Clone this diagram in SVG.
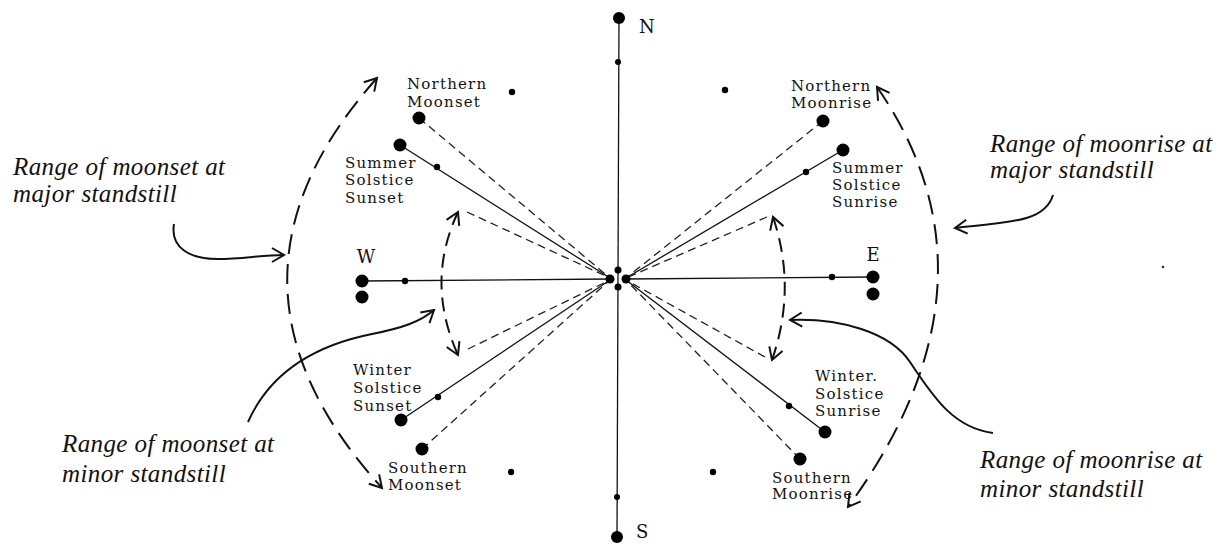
<svg xmlns="http://www.w3.org/2000/svg" width="1213" height="545" viewBox="0 0 1213 545">
<style>
.lbl{font-family:"DejaVu Serif","Liberation Serif",serif;font-size:15px;letter-spacing:1.2px;fill:#111}
.dir{font-family:"DejaVu Serif","Liberation Serif",serif;font-size:18px;fill:#111}
.note{font-family:"Liberation Serif",serif;font-style:italic;font-size:25px;letter-spacing:0.4px;fill:#111}
.solid{stroke:#111;stroke-width:1.3;fill:none}
.dash{stroke:#222;stroke-width:1.3;fill:none;stroke-dasharray:8 5}
.major{stroke:#111;stroke-width:2;fill:none;stroke-dasharray:20 10}
.minor{stroke:#111;stroke-width:2;fill:none;stroke-dasharray:14 8}
.ptr{stroke:#111;stroke-width:2;fill:none}
.big{fill:#000}
</style>
<defs>
<marker id="ah" markerUnits="userSpaceOnUse" markerWidth="30" markerHeight="30" viewBox="-15 -15 30 30" refX="0" refY="0" orient="auto-start-reverse">
<path d="M -12 -7 L 0 0 L -12 7" fill="none" stroke="#111" stroke-width="2"/>
</marker>
</defs>
<rect width="1213" height="545" fill="#fff"/>
<g id="connectors">
<path class="solid" d="M619 18 L617 537"/>
<path class="solid" d="M362 281 L610 279"/>
<path class="solid" d="M626 279 L873 277"/>
<path class="solid" d="M400 145 L610 278"/>
<path class="solid" d="M401 420 L610 280"/>
<path class="solid" d="M843 150 L626 278"/>
<path class="solid" d="M825 432 L626 280"/>
<path class="dash" d="M419 118 L610 278"/>
<path class="dash" d="M467 212 L610 278"/>
<path class="dash" d="M468 349 L610 280"/>
<path class="dash" d="M422 449 L610 280"/>
<path class="dash" d="M823 121 L626 278"/>
<path class="dash" d="M767 217 L626 278"/>
<path class="dash" d="M765 357 L626 280"/>
<path class="dash" d="M800 459 L626 280"/>
<path class="major" d="M377 78 Q 195 282 382 488" marker-start="url(#ah)" marker-end="url(#ah)"/>
<path class="major" d="M877 87 Q 1012 282 848 507" marker-start="url(#ah)" marker-end="url(#ah)"/>
<path class="minor" d="M458 212 Q 425 282 458 355" marker-start="url(#ah)" marker-end="url(#ah)"/>
<path class="minor" d="M773 217 Q 797 288 772 360" marker-start="url(#ah)" marker-end="url(#ah)"/>
<path class="ptr" d="M174 224 C 170 248 190 259 218 259 C 242 259 262 255 284 255" marker-end="url(#ah)"/>
<path class="ptr" d="M1053 195 C 1045 222 1010 222 955 228" marker-end="url(#ah)"/>
<path class="ptr" d="M248 422 C 272 368 322 344 372 334 C 402 328 420 322 434 310" marker-end="url(#ah)"/>
<path class="ptr" d="M993 433 C 955 428 935 400 910 362 C 890 332 840 318 790 320" marker-end="url(#ah)"/>
</g>
<g id="center">
<circle cx="610" cy="279" r="4.5"/>
<circle cx="626" cy="279" r="4.5"/>
<circle cx="618" cy="270" r="3.5"/>
<circle cx="618" cy="287" r="3.5"/>
</g>
<g id="north">
<circle cx="619" cy="18" r="6"/>
<circle cx="618" cy="62" r="3"/>
<text class="dir" x="639" y="33">N</text>
</g>
<g id="south">
<circle cx="617" cy="537" r="6"/>
<circle cx="617" cy="497" r="3"/>
<text class="dir" x="636" y="538">S</text>
</g>
<g id="west">
<circle cx="362" cy="281" r="6.5"/>
<circle cx="362" cy="297" r="6.5"/>
<circle cx="405" cy="281" r="3.2"/>
<text class="dir" x="366" y="263" text-anchor="middle">W</text>
</g>
<g id="east">
<circle cx="873" cy="277" r="6.5"/>
<circle cx="873" cy="294" r="6.5"/>
<circle cx="832" cy="277" r="3.2"/>
<text class="dir" x="873" y="261" text-anchor="middle">E</text>
</g>
<g id="northern-moonset">
<circle cx="419" cy="118" r="6.5"/>
<circle cx="512" cy="92" r="3.2"/>
<text class="lbl" x="407" y="89">Northern</text>
<text class="lbl" x="407" y="107">Moonset</text>
</g>
<g id="summer-solstice-sunset">
<circle cx="400" cy="145" r="6.5"/>
<circle cx="437" cy="167" r="3.2"/>
<text class="lbl" x="345" y="168">Summer</text>
<text class="lbl" x="345" y="185">Solstice</text>
<text class="lbl" x="345" y="203">Sunset</text>
</g>
<g id="winter-solstice-sunset">
<circle cx="401" cy="420" r="6.5"/>
<circle cx="438" cy="397" r="3.2"/>
<text class="lbl" x="353" y="375">Winter</text>
<text class="lbl" x="353" y="393">Solstice</text>
<text class="lbl" x="353" y="411">Sunset</text>
</g>
<g id="southern-moonset">
<circle cx="422" cy="449" r="6.5"/>
<circle cx="511" cy="472" r="3.2"/>
<text class="lbl" x="388" y="473">Southern</text>
<text class="lbl" x="388" y="490">Moonset</text>
</g>
<g id="northern-moonrise">
<circle cx="823" cy="121" r="6.5"/>
<circle cx="725" cy="90" r="3.2"/>
<text class="lbl" x="791" y="91">Northern</text>
<text class="lbl" x="791" y="108">Moonrise</text>
</g>
<g id="summer-solstice-sunrise">
<circle cx="843" cy="150" r="6.5"/>
<circle cx="806" cy="172" r="3.2"/>
<text class="lbl" x="832" y="173">Summer</text>
<text class="lbl" x="832" y="190">Solstice</text>
<text class="lbl" x="832" y="207">Sunrise</text>
</g>
<g id="winter-solstice-sunrise">
<circle cx="825" cy="432" r="6.5"/>
<circle cx="789" cy="406" r="3.2"/>
<text class="lbl" x="815" y="381">Winter.</text>
<text class="lbl" x="815" y="399">Solstice</text>
<text class="lbl" x="815" y="416">Sunrise</text>
</g>
<g id="southern-moonrise">
<circle cx="800" cy="459" r="6.5"/>
<circle cx="713" cy="472" r="3.2"/>
<text class="lbl" x="772" y="483">Southern</text>
<text class="lbl" x="772" y="499">Moonrise</text>
</g>
<g id="note-moonset-major">
<text class="note" x="13" y="175">Range of moonset at</text>
<text class="note" x="13" y="202">major standstill</text>
</g>
<g id="note-moonrise-major">
<text class="note" x="990" y="152">Range of moonrise at</text>
<text class="note" x="990" y="178">major standstill</text>
</g>
<g id="note-moonset-minor">
<text class="note" x="62" y="452">Range of moonset at</text>
<text class="note" x="62" y="482">minor standstill</text>
</g>
<g id="note-moonrise-minor">
<text class="note" x="980" y="468">Range of moonrise at</text>
<text class="note" x="980" y="497">minor standstill</text>
</g>
<circle cx="1163" cy="267" r="1.3" fill="#333"/>
</svg>
